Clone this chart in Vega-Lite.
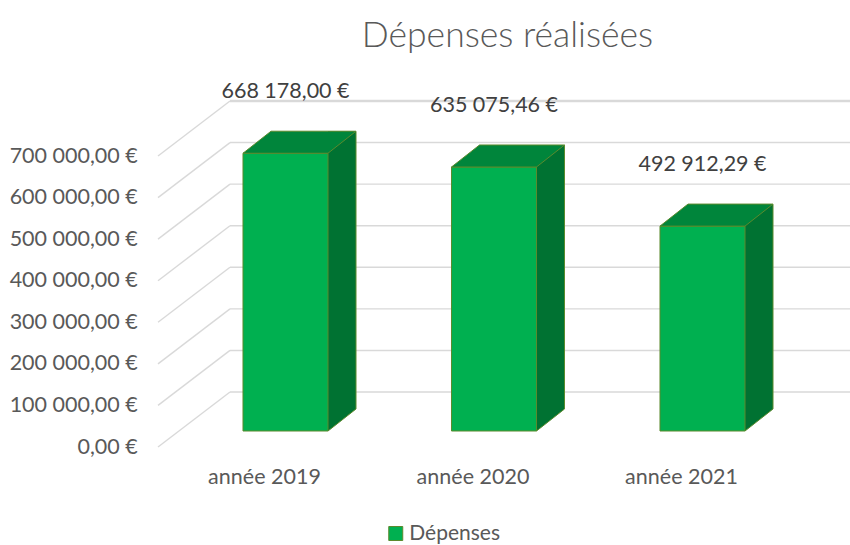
{
  "$schema": "https://vega.github.io/schema/vega-lite/v6.json",
  "autosize": {"type": "none"},
  "padding": {"left": 181.25, "top": 140, "right": 43.25, "bottom": 114},
  "width": 625.5,
  "height": 291,
  "background": "#ffffff",
  "config": {
    "view": {"stroke": null},
    "font": "Lato",
    "locale": {"number": {"decimal": ",", "thousands": " ", "grouping": [3], "currency": ["", " €"]}}
  },
  "title": {
    "text": "Dépenses réalisées",
    "font": "Lato",
    "fontSize": 35.5,
    "fontWeight": 300,
    "color": "#595959",
    "anchor": "middle",
    "frame": "group",
    "dx": 13.5,
    "offset": 27
  },
  "datasets": {
    "ticks": [
      {"v": 0}, {"v": 100000}, {"v": 200000}, {"v": 300000},
      {"v": 400000}, {"v": 500000}, {"v": 600000}, {"v": 700000}
    ],
    "depenses": [
      {"annee": "année 2019", "depenses": 668178.00, "serie": "Dépenses"},
      {"annee": "année 2020", "depenses": 635075.46, "serie": "Dépenses"},
      {"annee": "année 2021", "depenses": 492912.29, "serie": "Dépenses"}
    ]
  },
  "layer": [
    {
      "data": {"name": "depenses"},
      "mark": {"type": "bar", "stroke": "#5B8A2D", "strokeWidth": 1, "opacity": 0},
      "encoding": {
        "x": {
          "field": "annee", "type": "nominal", "sort": null,
          "scale": {"paddingInner": 0.5923, "paddingOuter": 0.29615},
          "axis": {
            "title": null, "domain": false, "ticks": false, "tickSize": 0, "grid": false,
            "labelAngle": 0, "labelFont": "Lato", "labelFontSize": 21.5, "labelColor": "#595959",
            "labelPadding": 35, "labelOffset": -21
          }
        },
        "y": {
          "field": "depenses", "type": "quantitative",
          "scale": {"domain": [0, 700000], "nice": false, "zero": true},
          "axis": {
            "title": null, "domain": false, "ticks": false, "tickSize": 0, "grid": false,
            "values": [0, 100000, 200000, 300000, 400000, 500000, 600000, 700000],
            "format": "$,.2f",
            "labelFont": "Lato", "labelFontSize": 21.5, "labelColor": "#595959",
            "labelPadding": 44, "labelOffset": 16
          }
        }
      }
    },
    {
      "data": {"name": "ticks"},
      "mark": {"type": "rule", "color": "#D9D9D9", "strokeWidth": 1.4, "xOffset": -127.5, "x2Offset": -55.5, "yOffset": 16, "y2Offset": -39},
      "encoding": {
        "x": {"datum": "année 2019", "type": "nominal"},
        "x2": {"datum": "année 2019"},
        "y": {"field": "v", "type": "quantitative"},
        "y2": {"field": "v"}
      }
    },
    {
      "data": {"name": "ticks"},
      "mark": {"type": "rule", "color": "#D9D9D9", "xOffset": -55.5, "x2Offset": 150, "yOffset": -39},
      "encoding": {
        "x": {"datum": "année 2019", "type": "nominal"},
        "x2": {"datum": "année 2021"},
        "y": {"field": "v", "type": "quantitative"},
        "strokeWidth": {"condition": {"test": "datum.v === 700000", "value": 2.5}, "value": 1.4}
      }
    },
    {
      "data": {"name": "depenses"},
      "mark": {"type": "bar", "width": 28, "xOffset": 56.5, "yOffset": -22, "y2Offset": -22, "fill": "#007232", "strokeWidth": 0},
      "encoding": {
        "x": {"field": "annee", "type": "nominal"},
        "y": {"field": "depenses", "type": "quantitative"},
        "y2": {"datum": 0}
      }
    },
    {
      "data": {"name": "depenses"},
      "mark": {"type": "point", "shape": "M-1,-0.786L-1,0.786L1,-0.786Z", "size": 784, "filled": true, "fill": "#007232", "strokeWidth": 0, "opacity": 1, "xOffset": 56.5, "yOffset": -11},
      "encoding": {
        "x": {"field": "annee", "type": "nominal"},
        "y": {"datum": 0, "type": "quantitative"}
      }
    },
    {
      "data": {"name": "depenses"},
      "mark": {"type": "bar", "stroke": "#5B8A2D", "strokeWidth": 1},
      "encoding": {
        "x": {"field": "annee", "type": "nominal"},
        "y": {"field": "depenses", "type": "quantitative"},
        "color": {
          "field": "serie", "type": "nominal",
          "scale": {"range": ["#00B050"]},
          "legend": {
            "orient": "none", "legendX": 204, "legendY": 383, "title": null, "padding": 0,
            "symbolType": "square", "symbolSize": 196, "symbolStrokeColor": "#5B8A2D", "symbolStrokeWidth": 1,
            "labelFont": "Lato", "labelFontSize": 21, "labelColor": "#595959", "labelOffset": 3
          }
        }
      }
    },
    {
      "data": {"name": "depenses"},
      "mark": {"type": "point", "shape": "M-1,0.195L0.504,0.195L1,-0.195L-0.504,-0.195Z", "size": 12769, "filled": true, "fill": "#00853B", "stroke": "#5B8A2D", "strokeWidth": 1, "opacity": 1, "xOffset": 14, "yOffset": -11},
      "encoding": {
        "x": {"field": "annee", "type": "nominal"},
        "y": {"field": "depenses", "type": "quantitative"}
      }
    },
    {
      "data": {"name": "depenses"},
      "mark": {"type": "rule", "color": "#5B8A2D", "strokeWidth": 1, "xOffset": 70.5, "yOffset": -22, "y2Offset": -22},
      "encoding": {
        "x": {"field": "annee", "type": "nominal"},
        "y": {"field": "depenses", "type": "quantitative"},
        "y2": {"datum": 0}
      }
    },
    {
      "data": {"name": "depenses"},
      "mark": {"type": "rule", "color": "#5B8A2D", "strokeWidth": 1, "xOffset": 42.5, "x2Offset": 70.5, "y2Offset": -22},
      "encoding": {
        "x": {"field": "annee", "type": "nominal"},
        "x2": {"field": "annee"},
        "y": {"datum": 0, "type": "quantitative"},
        "y2": {"datum": 0}
      }
    },
    {
      "data": {"name": "depenses"},
      "mark": {"type": "text", "font": "Lato", "fontSize": 21.5, "color": "#404040", "baseline": "middle", "align": "center", "yOffset": -61},
      "encoding": {
        "x": {"field": "annee", "type": "nominal"},
        "y": {"field": "depenses", "type": "quantitative"},
        "text": {"field": "depenses", "type": "quantitative", "format": "$,.2f"}
      }
    }
  ]
}
